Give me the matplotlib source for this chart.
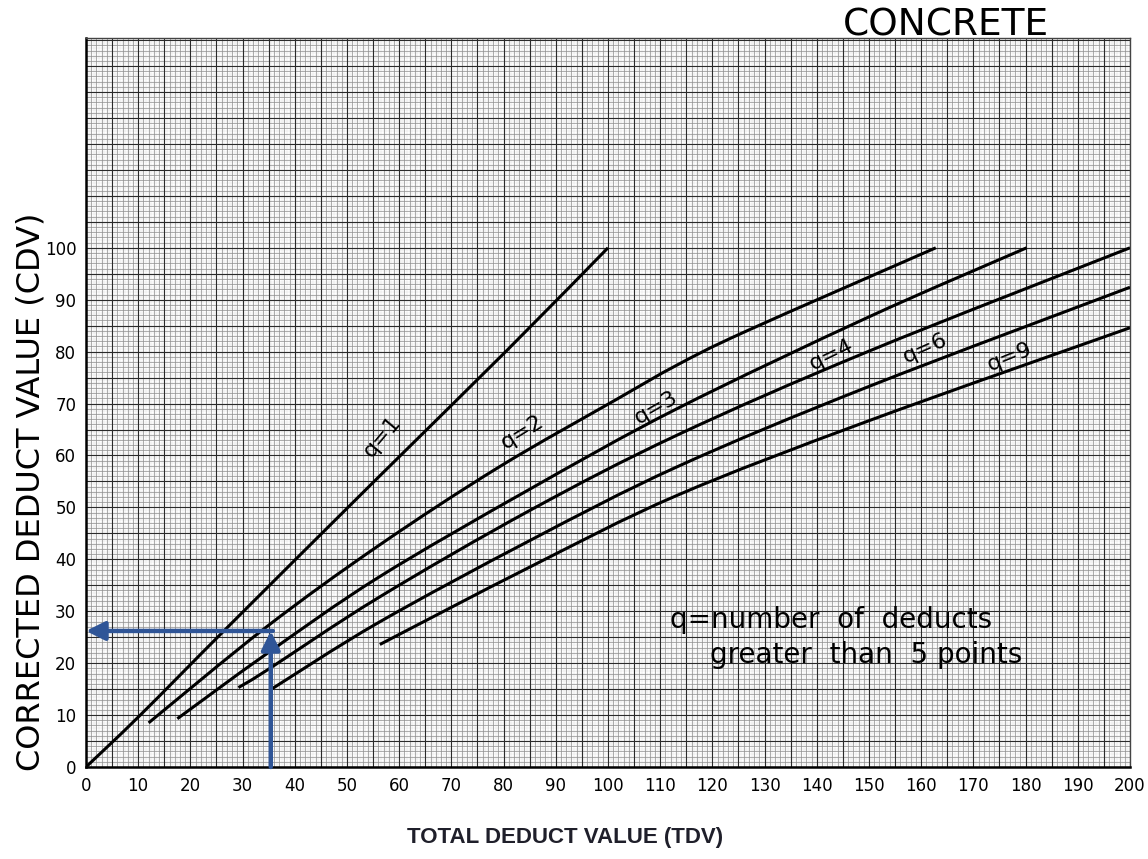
import numpy as np
import matplotlib.pyplot as plt
from matplotlib.path import Path
from matplotlib.patches import PathPatch

# PCI chart for concrete: corrected deduct value vs total deduct value
# curves, one per q (number of deducts > 5 points)
q_labels = ['q=1', 'q=2', 'q=3', 'q=4', 'q=6', 'q=9']

tdv_q1 = [0, 10.3, 27.5, 55, 80.6, 100]
cdv_q1 = [0, 9.9, 27.3, 54.8, 80.2, 100]

tdv_q2 = [12, 34.6, 56, 79, 101.8, 113.2, 126.6, 162.8]
cdv_q2 = [8.5, 27.0, 42.6, 57.7, 70.9, 77.4, 84.0, 100]

tdv_q3 = [17.5, 34.6, 56, 85, 113.2, 150, 180.2]
cdv_q3 = [9.3, 21.8, 36.5, 53.5, 69.0, 86.7, 100]

tdv_q4 = [29.2, 34.6, 56, 85, 113.2, 150, 200]
cdv_q4 = [15.3, 18.6, 32.6, 49.4, 63.9, 80.1, 100]

tdv_q6 = [35.7, 56, 85, 113.2, 150, 200]
cdv_q6 = [15.1, 27.8, 43.6, 57.8, 73.3, 92.4]

tdv_q9 = [56.3, 85, 113.2, 150, 200]
cdv_q9 = [23.6, 38.5, 52.3, 66.7, 84.6]

# worked example drawn in blue
example_tdv = 35.4
example_cdv = 26.2

x_ticks = list(range(0, 201, 10))
y_ticks = list(range(0, 101, 10))

# label placement (data coords) and rotation for the q labels
label_pos = [(56.7, 63.6), (83.5, 64.5), (109.2, 69.2), (142.9, 79.4), (160.7, 80.7), (177.0, 79.0)]
label_rot = [50, 32, 30, 26, 24, 22]


def smooth_path(xs, ys):
    # catmull-rom through the read points, drawn as cubic bezier segments
    p = np.column_stack([xs, ys]).astype(float)
    verts = [p[0]]
    codes = [Path.MOVETO]
    for i in range(len(p) - 1):
        p0 = p[i - 1] if i > 0 else p[i]
        p3 = p[i + 2] if i + 2 < len(p) else p[i + 1]
        c1 = p[i] + (p[i + 1] - p0) / 6.0
        c2 = p[i + 1] - (p3 - p[i]) / 6.0
        verts += [c1, c2, p[i + 1]]
        codes += [Path.CURVE4] * 3
    return Path(verts, codes)


fig = plt.figure(figsize=(11.48, 8.59), dpi=100)
ax = fig.add_axes([0.0749, 0.1071, 0.9094, 0.8492])
ax.set_xlim(0, 200)
ax.set_ylim(0, 140.5)

# graph paper
ymax = 140.5
ax.vlines(np.arange(0, 200.01, 0.5), 0, ymax, colors='#c8c8c8', linewidths=0.35, linestyles=(0, (1, 1)))
ax.hlines(np.arange(0, ymax, 0.5), 0, 200, colors='#c8c8c8', linewidths=0.35, linestyles=(0, (1, 1)))
ax.vlines(np.arange(0, 200.01, 1), 0, ymax, colors='#8f8f8f', linewidths=0.5)
ax.hlines(np.arange(0, ymax, 1), 0, 200, colors='#8f8f8f', linewidths=0.5)
ax.vlines(np.arange(0, 200.01, 5), 0, ymax, colors='#2a2a2a', linewidths=0.8)
ax.hlines(np.arange(0, ymax, 5), 0, 200, colors='#2a2a2a', linewidths=0.8)

curves = [(tdv_q1, cdv_q1), (tdv_q2, cdv_q2), (tdv_q3, cdv_q3),
          (tdv_q4, cdv_q4), (tdv_q6, cdv_q6), (tdv_q9, cdv_q9)]
for (xs, ys) in curves:
    ax.add_patch(PathPatch(smooth_path(xs, ys), fc='none', ec='black', lw=2.2,
                           capstyle='butt', zorder=4))

for lab, (lx, ly), rot in zip(q_labels, label_pos, label_rot):
    ax.text(lx, ly, lab, rotation=rot, fontsize=16, ha='center', va='center',
            rotation_mode='anchor', zorder=5)

# blue example arrows
blue = '#2F5597'
ax.annotate('', xy=(example_tdv, example_cdv), xytext=(example_tdv, 0),
            arrowprops=dict(arrowstyle='-|>', color=blue, lw=3.2, mutation_scale=28,
                            shrinkA=0, shrinkB=0), zorder=6)
ax.annotate('', xy=(0, example_cdv), xytext=(example_tdv + 0.4, example_cdv),
            arrowprops=dict(arrowstyle='-|>', color=blue, lw=3.2, mutation_scale=28,
                            shrinkA=0, shrinkB=0), zorder=6)

ax.text(111.9, 28.3, 'q=number  of  deducts', fontsize=20, ha='left', va='center', zorder=5)
ax.text(119.5, 21.6, 'greater  than  5 points', fontsize=20, ha='left', va='center', zorder=5)

ax.set_xticks(x_ticks)
ax.set_yticks(y_ticks)
ax.tick_params(length=0, labelsize=12, pad=7)
for s in ['left', 'bottom']:
    ax.spines[s].set_linewidth(1.8)
for s in ['top', 'right']:
    ax.spines[s].set_linewidth(1.0)
    ax.spines[s].set_color('#444444')

fig.text(0.824, 0.970, 'CONCRETE', fontsize=27, ha='center', va='center')
fig.text(0.027, 0.428, 'CORRECTED DEDUCT VALUE (CDV)', fontsize=23,
         rotation=90, ha='center', va='center')
fig.text(0.492, 0.013, 'TOTAL DEDUCT VALUE (TDV)', family='Liberation Sans', fontweight='bold',
         fontsize=16, color='#1f1f2a', ha='center', va='bottom')

fig.savefig('out.png', dpi=100)
